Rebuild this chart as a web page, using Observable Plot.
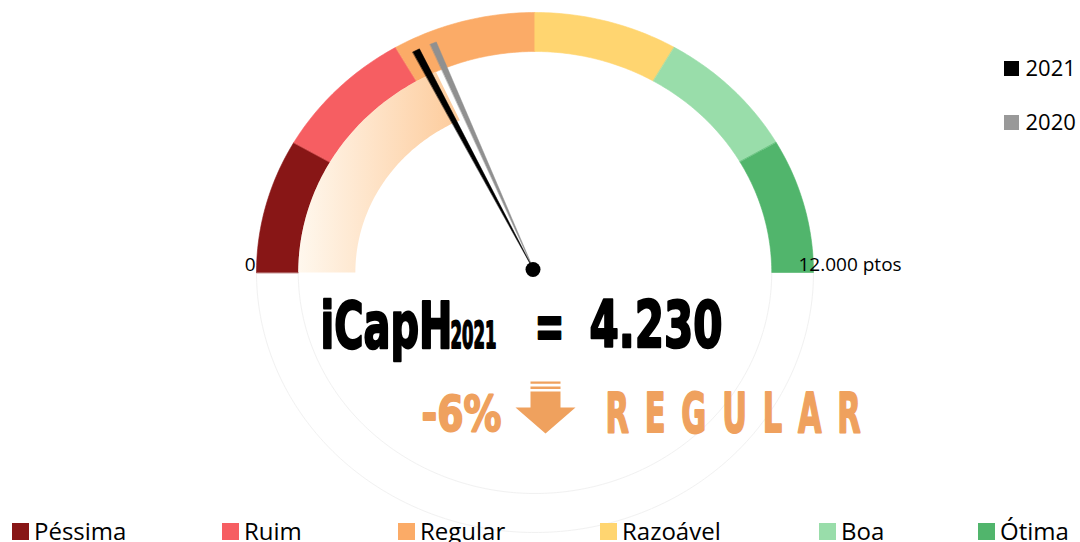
<!DOCTYPE html>
<html><head><meta charset="utf-8">
<script src="https://cdn.jsdelivr.net/npm/d3@7"></script>
<script src="https://cdn.jsdelivr.net/npm/@observablehq/plot@0.6"></script>
<style>
body{margin:0;background:#fff;}
#wrap{position:relative;width:1080px;height:542px;overflow:hidden;font-family:"Open Sans",sans-serif;background:#fff;}
#chart{position:absolute;left:0;top:0;}
.lg{position:absolute;line-height:1;white-space:nowrap;color:#000;}
.sw{position:absolute;}
</style></head><body><div id="wrap"><div id="chart"></div></div>
<script>
// ---- data ----
const categories = ["Péssima", "Ruim", "Regular", "Razoável", "Boa", "Ótima"];
const categoryBounds = [0, 2000, 4000, 6000, 8000, 10000, 12000];
const categoryColors = ["#881616", "#F65E62", "#FBAB67", "#FFD570", "#99DDAA", "#51B56C"];
const years = ["2021", "2020"];
const scores = [4230, 4500];
const yearColors = ["#000000", "#909090"];
const maxScore = 12000;
const gradientBandEnd = 4350;      // end of the shaded progress band, as read
const indexName = "iCapH";
const unitLabel = "ptos";

// ---- derived text ----
const ptBR = d3.formatLocale({decimal: ",", thousands: ".", grouping: [3], currency: ["R$ ", ""], minus: "-"});
const fmtInt = ptBR.format(",d");
const fmtPct = ptBR.format(".0%");
const valueText = fmtInt(scores[0]);
const pctText = fmtPct(scores[0] / scores[1] - 1);
const ratingText = categories[Math.min(categories.length - 1, Math.floor(scores[0] / (maxScore / categories.length)))].toUpperCase();
const axisTexts = ["0", `${fmtInt(maxScore)} ${unitLabel}`];

// ---- geometry helpers (value -> angle on unit half ellipse) ----
const angle = v => Math.PI * (1 - v / maxScore);
function ring(v0, v1, r0, r1, key) {
  const n = Math.max(2, Math.ceil(Math.abs(v1 - v0) / maxScore * 240));
  const pts = [];
  for (let i = 0; i <= n; i++) { const t = angle(v0 + (v1 - v0) * i / n); pts.push({x: r1 * Math.cos(t), y: r1 * Math.sin(t), key}); }
  for (let i = n; i >= 0; i--) { const t = angle(v0 + (v1 - v0) * i / n); pts.push({x: r0 * Math.cos(t), y: r0 * Math.sin(t), key}); }
  return pts;
}
function needle(v, r, half) {
  const t = angle(v);
  return [
    {x: r * Math.cos(t + half), y: r * Math.sin(t + half)},
    {x: r * Math.cos(t - half), y: r * Math.sin(t - half)},
    {x: 0, y: 0}
  ];
}
const R_OUT = 1, R_IN = 0.85, R_GRAD = 0.645, R_NEEDLE = 0.955;

const arrowSymbol = {
  draw(ctx, size) {
    const r = Math.sqrt(size / Math.PI);
    ctx.moveTo(-r, 0); ctx.lineTo(r, 0); ctx.lineTo(0, 0.867 * r); ctx.closePath();
    const rect = (x0, y0, x1, y1) => { ctx.moveTo(x0 * r, y0 * r); ctx.lineTo(x1 * r, y0 * r); ctx.lineTo(x1 * r, y1 * r); ctx.lineTo(x0 * r, y1 * r); ctx.closePath(); };
    rect(-0.5, -0.533, 0.5, 0.02);
    rect(-0.5, -0.867, 0.5, -0.79);
    rect(-0.5, -0.70, 0.5, -0.62);
  }
};

const origin = [{x: 0, y: 0}];
const orange = "#EFA15E";
const bigFont = "DejaVu Sans";
const txt = (text, opts) => Plot.text(origin, {x: "x", y: "y", text: () => text,
  textAnchor: "start", lineAnchor: "bottom", fontFamily: bigFont, fontWeight: "bold", ...opts});

const marks = [
  // faint lower half of the dial
  Plot.line(ring(maxScore, 2 * maxScore, R_IN, R_OUT, "low"), {x: "x", y: "y", fill: "#ffffff", stroke: "#f1f1f1", strokeWidth: 1, curve: "linear-closed"}),
  // category bands
  ...categories.map((c, i) => Plot.line(ring(categoryBounds[i], categoryBounds[i + 1], R_IN, R_OUT, c),
    {x: "x", y: "y", fill: categoryColors[i], stroke: categoryColors[i], strokeWidth: 0.6, curve: "linear-closed"})),
  // progress gradient band
  Plot.line(ring(0, gradientBandEnd, R_GRAD, R_IN, "grad"), {x: "x", y: "y", fill: "url(#gaugeGrad)", stroke: "none", curve: "linear-closed"}),
  // needles (2020 behind 2021)
  ...years.map((y, i) => i).reverse().map(i => Plot.line(needle(scores[i], R_NEEDLE, i === 0 ? 0.0139 : 0.0125),
    {x: "x", y: "y", fill: yearColors[i], stroke: yearColors[i], strokeWidth: 0.5, curve: "linear-closed"})),
  Plot.dot(origin, {x: "x", y: "y", r: 7.5, dx: -2, dy: -3, fill: "#000", stroke: "none"}),
  // axis end labels
  Plot.text(origin, {x: () => -R_OUT, y: "y", text: () => axisTexts[0], textAnchor: "end", lineAnchor: "bottom", dx: -1, dy: -2, fontFamily: "Open Sans", fontSize: 19, fill: "#000"}),
  Plot.text(origin, {x: () => R_OUT, y: "y", text: () => axisTexts[1], textAnchor: "start", lineAnchor: "bottom", dx: -15, dy: -2, fontFamily: "Open Sans", fontSize: 19, fill: "#000"}),
  // headline
  txt(indexName, {dx: -214.5, dy: 75, fontSize: 64, fill: "#000", stroke: "#000", strokeWidth: 2.5}),
  txt(years[0], {dx: -84.5, dy: 75, fontSize: 38, fill: "#000", stroke: "#000", strokeWidth: 2}),
  txt("=", {dx: -0.5, dy: 75, fontSize: 64, fill: "#000", stroke: "#000", strokeWidth: 2}),
  txt(valueText, {dx: 54.5, dy: 74, fontSize: 64, fill: "#000", stroke: "#000", strokeWidth: 2.5}),
  txt(pctText, {dx: -113.5, dy: 158, fontSize: 50, fill: orange, stroke: orange, strokeWidth: 2}),
  Plot.dot(origin, {x: "x", y: "y", symbol: arrowSymbol, r: 30, dx: 10.5, dy: 135, fill: orange, stroke: "none"}),
  txt(ratingText, {dx: 70.5, dy: 159, fontSize: 56, fill: orange, stroke: orange, strokeWidth: 2})
];

const chart = Plot.plot({
  width: 1080, height: 542, margin: 0,
  x: {domain: [-534.5 / 278.5, 545.5 / 278.5], axis: null},
  y: {domain: [-270 / 260, 272 / 260], axis: null},
  style: {background: "transparent", overflow: "visible"},
  marks
});
document.getElementById("chart").appendChild(chart);

// gradient definition + condensed-text fitting
const svg = d3.select(chart.tagName.toLowerCase() === "svg" ? chart : chart.querySelector("svg"));
const grad = svg.insert("defs", ":first-child").append("linearGradient").attr("id", "gaugeGrad")
  .attr("x1", "0").attr("x2", "1").attr("y1", "0").attr("y2", "0");
grad.append("stop").attr("offset", "0").attr("stop-color", "#FFF8EE");
grad.append("stop").attr("offset", "1").attr("stop-color", "#FDCB9B");
const fit = new Map([[indexName, 132], [years[0], 46], ["=", 30], [valueText, 133], [pctText, 80], [ratingText, 271]]);
svg.selectAll("text").each(function () {
  const t = this.textContent;
  if (!fit.has(t)) return;
  const s = d3.select(this).attr("textLength", fit.get(t)).attr("lengthAdjust", "spacingAndGlyphs");
  if (t === ratingText) s.style("letter-spacing", "29px");
});

// ---- legends (HTML) ----
const wrap = document.getElementById("wrap");
const legendLeft = [12, 222, 398, 600, 819, 978];
const addBox = (left, top, size, color) => { const d = document.createElement("div"); d.className = "sw";
  Object.assign(d.style, {left: left + "px", top: top + "px", width: size + "px", height: size + "px", background: color}); wrap.appendChild(d); };
const addLabel = (left, baseline, fs, text) => { const d = document.createElement("div"); d.className = "lg"; d.textContent = text;
  Object.assign(d.style, {left: left + "px", top: (baseline - 0.888 * fs) + "px", fontSize: fs + "px"}); wrap.appendChild(d); };
categories.forEach((c, i) => { addBox(legendLeft[i], 523, 17, categoryColors[i]); addLabel(legendLeft[i] + 22, 540, 24, c); });
const yearLegendTop = [61, 115];
years.forEach((y, i) => { addBox(1004, yearLegendTop[i], 15, i === 0 ? "#000" : "#999"); addLabel(1025.5, yearLegendTop[i] + 14.5, 22, y); });
</script></body></html>
